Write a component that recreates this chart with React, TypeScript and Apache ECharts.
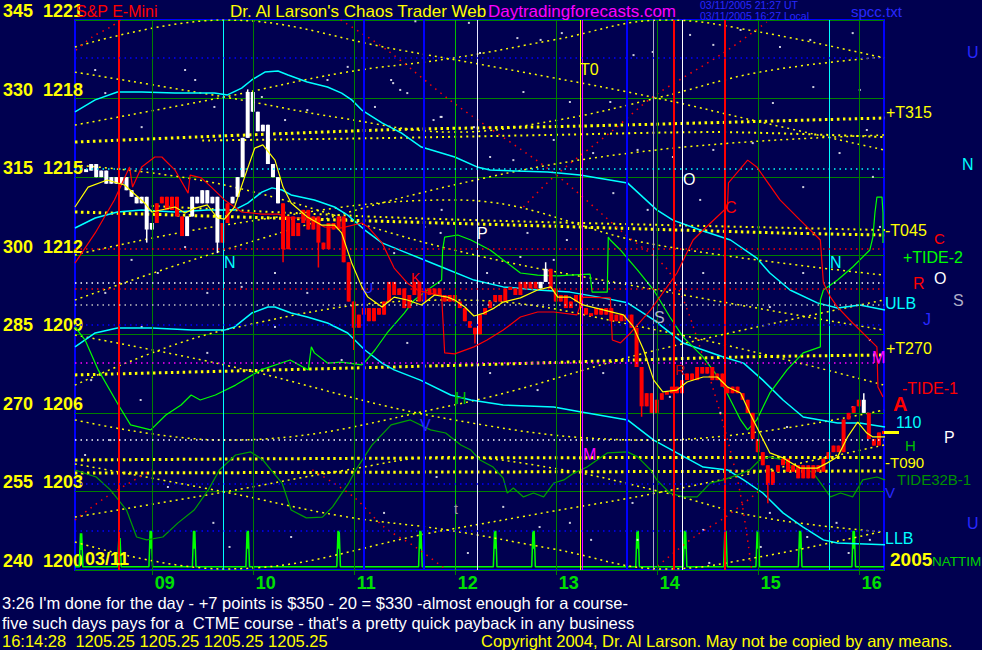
import React, { useEffect, useRef } from "react";
import * as echarts from "echarts";

const FONT = '"Liberation Sans", Arial, Helvetica, sans-serif';
const BG = "#000050";

// ---------- axes ----------
const dayTicks = [9, 10, 11, 12, 13, 14, 15, 16];
const dayMin = 8.24;
const dayMax = 16.25;
const priceMin = 1200;
const priceMax = 1221;
const priceStep = 3;
const lastPrice = 1205.25;

// ---------- price bars (0.05 day apart) ----------
const barStartDay = 8.35;
const barStepDay = 0.05;
const closes = [
  1215.25, 1215.5, 1215.0, 1215.25, 1214.75, 1215.0, 1214.75, 1215.0, 1214.5, 1214.25,
  1214.0, 1214.25, 1213.0, 1213.25, 1214.0, 1214.25, 1213.75, 1214.25, 1213.5, 1212.75,
  1213.5, 1214.25, 1214.0, 1214.5, 1214.0, 1214.25, 1212.5, 1213.25, 1214.0, 1214.25,
  1215.0, 1216.5, 1218.25, 1217.5, 1216.75, 1217.0, 1215.5, 1215.0, 1214.0, 1212.25,
  1213.5, 1212.75, 1213.25, 1213.75, 1213.0, 1213.5, 1212.5, 1212.25, 1213.25, 1213.0,
  1213.5, 1211.75, 1210.25, 1209.25, 1209.75, 1210.0, 1209.5, 1210.0, 1209.75, 1210.25,
  1211.0, 1210.5, 1210.75, 1210.0, 1210.5, 1211.0, 1210.25, 1210.75, 1210.5, 1210.75,
  1210.5, 1210.25, 1210.5, 1210.25, 1210.0, 1209.5, 1209.25, 1209.0, 1209.75, 1210.0,
  1210.25, 1210.5, 1210.25, 1210.75, 1210.75, 1210.5, 1211.0, 1210.75, 1211.0, 1210.75,
  1211.0, 1211.5, 1210.75, 1210.25, 1210.5, 1210.0, 1210.25, 1210.5, 1210.0, 1209.75,
  1209.75, 1210.0, 1209.75, 1210.0, 1209.5, 1209.75, 1209.5, 1209.75, 1209.25, 1207.75,
  1206.25, 1206.75, 1206.0, 1206.5, 1206.75, 1206.75, 1207.0, 1206.75, 1207.25, 1207.5,
  1207.25, 1207.75, 1207.5, 1207.75, 1207.25, 1207.5, 1207.0, 1206.75, 1207.0, 1206.75,
  1206.5, 1206.0, 1205.0, 1204.5, 1204.0, 1203.25, 1203.75, 1204.0, 1204.25, 1203.75,
  1204.0, 1203.5, 1204.0, 1203.5, 1204.0, 1203.75, 1204.25, 1204.5, 1204.75, 1204.5,
  1205.75, 1206.0, 1206.25, 1206.5, 1206.0, 1205.0, 1204.75, 1205.25, 1205.25,
];
const whiteBarRanges = [[0, 13], [20, 26], [29, 38], [90, 91], [154, 154]];
// [bar index, extreme price] for the longer wicks
const barWicks = [
  [12, 1212.5], [26, 1212.1], [32, 1218.35], [39, 1211.75], [46, 1211.55], [53, 1208.4],
  [77, 1208.65], [91, 1211.75], [110, 1205.85], [135, 1202.55], [154, 1206.75],
];

// ---------- averages and bands [day, price] ----------
const yellowMA = [
  [8.24, 1213.86], [8.37, 1214.62], [8.56, 1214.89], [8.73, 1214.7], [8.93, 1214.01], [9.0, 1213.67],
  [9.23, 1213.86], [9.33, 1213.63], [9.43, 1213.82], [9.55, 1213.94], [9.65, 1213.44], [9.72, 1213.4],
  [9.82, 1213.86], [9.92, 1215.01], [10.02, 1216.11], [10.1, 1216.23], [10.22, 1215.65], [10.3, 1214.62],
  [10.38, 1214.01], [10.54, 1213.48], [10.68, 1213.17], [10.81, 1213.17], [10.88, 1212.87], [10.98, 1211.72],
  [11.08, 1210.81], [11.14, 1210.42], [11.28, 1210.04], [11.4, 1210.42], [11.53, 1210.31], [11.67, 1210.12],
  [11.8, 1210.5], [11.93, 1210.42], [12.0, 1210.31], [12.1, 1210.04], [12.19, 1209.7], [12.29, 1209.81],
  [12.39, 1210.0], [12.48, 1210.23], [12.65, 1210.39], [12.82, 1210.69], [12.95, 1210.81], [13.02, 1210.42],
  [13.14, 1210.42], [13.27, 1210.12], [13.47, 1209.93], [13.67, 1209.74], [13.77, 1209.28], [13.87, 1208.4],
  [13.97, 1207.25], [14.06, 1206.8], [14.2, 1206.87], [14.3, 1207.18], [14.46, 1207.37], [14.6, 1207.37],
  [14.7, 1206.99], [14.83, 1206.76], [14.92, 1206.0], [15.02, 1205.23], [15.12, 1204.47], [15.25, 1204.28],
  [15.42, 1203.89], [15.59, 1203.89], [15.69, 1204.09], [15.79, 1204.32], [15.89, 1205.08], [15.99, 1205.65],
  [16.08, 1205.23], [16.14, 1205.08], [16.26, 1205.08],
];
const redMA = [
  [8.24, 1211.72], [8.44, 1212.87], [8.63, 1214.13], [8.78, 1215.39], [8.81, 1214.62], [8.9, 1215.39],
  [9.03, 1215.77], [9.1, 1215.77], [9.23, 1215.27], [9.36, 1214.39], [9.38, 1215.08], [9.49, 1214.97],
  [9.59, 1214.62], [9.72, 1214.13], [9.89, 1213.67], [10.09, 1213.59], [10.25, 1213.59], [10.38, 1213.44],
  [10.54, 1213.44], [10.71, 1213.1], [10.88, 1213.06], [11.08, 1213.25], [11.14, 1213.1], [11.28, 1212.49],
  [11.4, 1211.53], [11.53, 1210.96], [11.63, 1210.69], [11.73, 1210.58], [11.87, 1210.5], [11.9, 1208.29],
  [12.0, 1208.25], [12.19, 1208.52], [12.32, 1208.78], [12.48, 1209.16], [12.65, 1209.66], [12.82, 1209.85],
  [12.98, 1209.85], [13.21, 1209.74], [13.27, 1210.42], [13.54, 1210.39], [13.56, 1208.78], [13.64, 1208.67],
  [13.74, 1209.05], [13.94, 1209.93], [14.2, 1211.34], [14.36, 1212.6], [14.46, 1212.98], [14.7, 1213.86],
  [14.71, 1214.78], [14.9, 1215.65], [14.99, 1215.39], [15.22, 1214.13], [15.42, 1213.36], [15.62, 1212.6],
  [15.65, 1210.96], [15.72, 1210.42], [15.79, 1210.04], [15.94, 1209.43], [16.14, 1208.67], [16.18, 1208.52],
  [16.19, 1206.99], [16.24, 1206.61],
];
const upperBand = [
  [8.24, 1217.49], [8.44, 1217.95], [8.66, 1218.25], [8.9, 1218.25], [9.23, 1218.21], [9.62, 1218.21],
  [9.75, 1218.14], [9.89, 1218.4], [9.99, 1218.71], [10.12, 1219.01], [10.25, 1219.05], [10.35, 1218.9],
  [10.54, 1218.63], [10.74, 1218.44], [10.88, 1218.21], [10.98, 1217.95], [11.08, 1217.56], [11.28, 1217.07],
  [11.47, 1216.69], [11.67, 1216.15], [12.0, 1215.77], [12.22, 1215.39], [12.35, 1215.27], [12.92, 1215.2],
  [13.24, 1215.08], [13.71, 1214.78], [14.0, 1213.75], [14.16, 1213.36], [14.43, 1212.98], [14.73, 1212.6],
  [14.99, 1211.91], [15.12, 1211.34], [15.32, 1210.69], [15.59, 1210.2], [15.79, 1210.0], [16.01, 1210.12],
  [16.26, 1209.93],
];
const middleBand = [
  [8.24, 1213.06], [8.44, 1213.44], [8.66, 1213.67], [8.9, 1213.75], [9.23, 1213.67], [9.55, 1213.75],
  [9.82, 1213.75], [9.95, 1214.01], [10.09, 1214.43], [10.19, 1214.59], [10.29, 1214.51], [10.38, 1214.32],
  [10.61, 1214.13], [10.81, 1213.86], [10.94, 1213.55], [11.11, 1212.98], [11.28, 1212.49], [11.53, 1212.1],
  [11.87, 1211.57], [12.19, 1211.07], [12.48, 1210.81], [12.82, 1210.69], [13.14, 1210.61], [13.47, 1210.39],
  [13.71, 1210.2], [13.97, 1209.55], [14.26, 1208.67], [14.46, 1208.4], [14.66, 1208.13], [14.86, 1207.9],
  [15.05, 1207.25], [15.25, 1206.49], [15.45, 1205.84], [15.79, 1205.61], [16.01, 1205.61], [16.26, 1205.46],
];
const lowerBand = [
  [8.24, 1208.52], [8.44, 1209.05], [8.66, 1209.24], [9.0, 1209.24], [9.4, 1209.16], [9.72, 1209.16],
  [9.82, 1209.28], [9.99, 1209.81], [10.15, 1210.04], [10.22, 1210.04], [10.38, 1209.81], [10.54, 1209.66],
  [10.74, 1209.43], [10.94, 1209.05], [11.11, 1208.4], [11.28, 1207.9], [11.4, 1207.64], [11.66, 1207.25],
  [11.96, 1206.68], [12.16, 1206.49], [12.48, 1206.3], [12.98, 1206.22], [13.24, 1206.04], [13.71, 1205.73],
  [13.97, 1204.96], [14.2, 1204.47], [14.46, 1203.93], [14.7, 1203.82], [14.86, 1203.44], [15.05, 1202.94],
  [15.25, 1202.18], [15.45, 1201.64], [15.65, 1201.15], [15.79, 1201.03], [16.26, 1200.96],
];
const tide2 = [
  [8.24, 1209.28], [8.34, 1208.78], [8.47, 1207.64], [8.67, 1206.3], [8.79, 1205.54], [8.99, 1205.35],
  [9.14, 1205.92], [9.29, 1206.3], [9.39, 1206.68], [9.48, 1206.49], [9.63, 1206.68], [9.83, 1207.06],
  [10.08, 1207.64], [10.37, 1208.02], [10.55, 1207.64], [10.58, 1208.52], [10.61, 1208.29], [10.74, 1207.9],
  [10.88, 1207.94], [11.08, 1207.83], [11.11, 1207.94], [11.21, 1208.4], [11.33, 1209.05], [11.5, 1209.81],
  [11.6, 1210.31], [11.73, 1210.69], [11.87, 1211.07], [11.88, 1212.22], [11.9, 1212.71], [12.03, 1212.79],
  [12.16, 1212.6], [12.35, 1212.22], [12.48, 1211.84], [12.65, 1211.34], [12.82, 1211.26], [13.02, 1211.23],
  [13.14, 1211.26], [13.34, 1211.3], [13.36, 1210.61], [13.51, 1210.61], [13.52, 1212.71], [13.54, 1212.6],
  [13.64, 1212.22], [13.81, 1211.45], [13.97, 1210.69], [14.13, 1209.66], [14.26, 1208.9], [14.46, 1208.13],
  [14.63, 1207.25], [14.73, 1206.49], [14.83, 1205.73], [14.9, 1205.35], [14.99, 1205.73], [15.12, 1206.76],
  [15.29, 1207.64], [15.45, 1208.29], [15.62, 1208.52], [15.62, 1210.31], [15.65, 1210.69], [15.79, 1211.07],
  [15.94, 1211.57], [16.11, 1212.22], [16.14, 1212.71], [16.16, 1213.63], [16.18, 1214.24], [16.23, 1214.24],
  [16.24, 1213.63], [16.24, 1212.49],
];
const tide32b = [
  [8.24, 1203.82], [8.45, 1203.55], [8.59, 1203.06], [8.75, 1202.29], [8.85, 1201.26], [8.95, 1201.15],
  [9.11, 1201.26], [9.26, 1201.8], [9.42, 1202.29], [9.56, 1203.06], [9.67, 1203.82], [9.83, 1204.39],
  [9.98, 1204.51], [10.1, 1204.2], [10.18, 1203.82], [10.29, 1203.32], [10.38, 1202.29], [10.53, 1201.99],
  [10.69, 1202.02], [10.79, 1202.41], [10.95, 1203.32], [11.02, 1203.82], [11.18, 1204.77], [11.37, 1205.54],
  [11.56, 1205.73], [11.76, 1205.35], [11.91, 1205.23], [12.06, 1204.77], [12.16, 1204.58], [12.25, 1204.2],
  [12.38, 1203.93], [12.48, 1203.51], [12.52, 1202.94], [12.58, 1203.13], [12.68, 1202.79], [12.78, 1202.94],
  [12.88, 1202.79], [12.98, 1203.32], [13.08, 1203.44], [13.18, 1203.7], [13.31, 1203.93], [13.41, 1204.2],
  [13.51, 1204.47], [13.71, 1204.51], [13.81, 1204.32], [13.94, 1203.82], [14.0, 1203.44], [14.13, 1202.94],
  [14.26, 1202.79], [14.4, 1202.79], [14.53, 1203.32], [14.66, 1203.44], [14.8, 1203.63], [14.92, 1203.82],
  [15.02, 1204.2], [15.12, 1204.32], [15.25, 1204.2], [15.35, 1203.82], [15.45, 1203.93], [15.55, 1203.7],
  [15.65, 1203.17], [15.72, 1202.79], [15.82, 1202.94], [15.94, 1202.79], [16.04, 1203.44], [16.18, 1203.55],
  [16.26, 1203.44],
];

// ---------- timing spikes ----------
const spikeBase = 1200.12;
const spikeDays = [8.3, 8.68, 8.99, 9.42, 9.95, 10.85, 11.66, 12.4, 12.78, 13.81, 14.28, 14.68, 15.0, 15.42, 15.95];
const spikeTops = [1201.4, 1201.22, 1201.5, 1201.5, 1201.5, 1201.5, 1201.5, 1201.5, 1201.5, 1201.5, 1201.5, 1201.5, 1201.5, 1201.5, 1201.5];

// ---------- yellow projection curves ----------
const tLineT315a = [[8.24, 1216.34], [11.27, 1216.8], [13.24, 1216.95], [16.26, 1217.26]];
const tLineT315b = [[9.5, 1216.4], [11.27, 1216.49], [12.92, 1216.61], [14.56, 1216.72], [16.26, 1216.53]];
const tLineT045a = [[8.24, 1213.67], [10.88, 1213.36], [12.58, 1213.17], [15.22, 1212.87], [16.26, 1212.79]];
const tLineT045b = [[9.0, 1213.9], [11.27, 1213.48], [13.24, 1213.25], [16.26, 1212.98]];
const tLineT270 = [[8.24, 1207.45], [12.16, 1207.83], [14.8, 1208.13], [16.26, 1208.21]];
const tLineT090a = [[8.24, 1204.2], [12.0, 1204.28], [16.26, 1204.3]];
const tLineT090b = [[8.24, 1203.7], [12.0, 1203.74], [16.26, 1203.78]];
const curveA1 = [[8.24, 1219.97], [9.71, 1221.0], [11.46, 1219.85], [12.98, 1218.79], [14.0, 1218.02], [15.02, 1217.11], [16.25, 1216.04]];
const curveA2 = [[8.24, 1216.99], [9.72, 1218.06], [10.88, 1218.98], [11.99, 1219.55], [12.98, 1220.24], [14.08, 1221.0], [15.02, 1220.54], [16.25, 1219.55]];
const curveA3 = [[8.24, 1219.01], [9.72, 1218.06], [10.87, 1217.26], [11.99, 1216.72], [13.02, 1217.18], [14.0, 1218.02], [15.02, 1219.01], [16.25, 1219.59]];
const curveB1 = [[8.24, 1201.07], [9.71, 1200.04], [11.92, 1201.53], [12.98, 1202.25], [14.05, 1202.98], [16.25, 1204.77]];
const curveB2 = [[8.24, 1204.05], [9.72, 1202.98], [10.88, 1202.06], [11.92, 1201.53], [12.98, 1200.8], [14.08, 1200.04], [15.02, 1200.5], [16.25, 1201.49]];
const curveB3 = [[8.24, 1202.02], [9.72, 1202.98], [10.87, 1203.78], [11.92, 1204.32], [13.02, 1203.86], [14.05, 1202.98], [15.02, 1202.02], [16.25, 1201.45]];
const curveM1 = [[8.24, 1215.46], [9.72, 1214.7], [11.99, 1212.22], [14.0, 1210.69], [16.25, 1209.16]];
const curveM2 = [[8.24, 1210.31], [9.72, 1212.22], [11.99, 1214.7], [14.0, 1216.04], [16.25, 1216.61]];
const curveM3 = [[8.24, 1212.03], [9.72, 1213.17], [11.99, 1214.13], [14.0, 1212.41], [16.25, 1211.26]];
const curveM4 = [[8.24, 1205.73], [9.72, 1204.96], [11.99, 1206.3], [14.0, 1208.4], [16.25, 1210.31]];
const curveM5 = [[8.24, 1208.97], [9.72, 1207.83], [11.99, 1205.73], [14.0, 1204.96], [16.25, 1206.11]];
const curveM6 = [[8.24, 1207.06], [9.72, 1209.16], [11.99, 1210.31], [14.0, 1209.16], [16.25, 1207.06]];

// ---------- red dotted projections ----------
const redDot1 = [[10.87, 1221.0], [11.33, 1219.85], [11.99, 1217.83], [12.98, 1215.16], [13.67, 1212.87], [14.13, 1211.34], [14.46, 1208.13], [14.8, 1203.44], [14.94, 1200.0]];
const redDot2 = [[12.68, 1213.86], [12.98, 1215.01], [13.57, 1216.8], [13.96, 1218.06], [14.66, 1219.74], [15.09, 1220.92]];
const redDot3 = [[8.24, 1201.91], [8.55, 1202.79], [9.0, 1203.82]];
const redDot4 = [[10.59, 1203.82], [11.0, 1202.79], [11.3, 1201.64], [11.61, 1200.88], [11.92, 1200.0]];
const redDot5 = [[13.96, 1200.0], [14.37, 1201.26], [14.68, 1202.02], [15.03, 1203.06]];
const redDot6 = [[8.25, 1219.85], [8.41, 1220.35], [8.59, 1220.73], [8.69, 1221.0]];

// ---------- scattered white dots ----------
const whiteDots = [
  [11.61, 1220.95], [12.14, 1220.89], [12.62, 1220.31], [12.85, 1220.24], [13.06, 1220.5], [12.25, 1219.74],
  [12.68, 1218.25], [13.14, 1217.87], [13.54, 1217.87], [13.77, 1219.66], [13.96, 1219.78], [14.33, 1220.43],
  [14.56, 1220.05], [14.83, 1220.62], [15.22, 1219.97], [15.52, 1220.24], [15.94, 1220.5], [15.55, 1218.44],
  [16.01, 1218.33], [15.15, 1217.83], [14.95, 1216.3], [14.56, 1216.04], [14.16, 1215.77], [13.81, 1216.04],
  [13.37, 1215.92], [12.98, 1216.42], [12.58, 1215.65], [12.35, 1215.77], [11.86, 1217.3], [11.79, 1217.18],
  [11.46, 1218.33], [11.39, 1218.59], [16.08, 1216.8], [15.81, 1215.92], [16.14, 1215.01], [15.45, 1214.62],
  [14.43, 1214.13], [13.91, 1213.75], [13.57, 1214.39], [13.11, 1212.6], [12.72, 1212.87], [11.86, 1212.87],
  [16.21, 1213.1], [8.44, 1219.09], [8.54, 1218.21], [8.9, 1216.91], [9.33, 1219.09], [9.43, 1218.71],
  [9.62, 1217.68], [10.09, 1218.06], [10.32, 1217.18], [10.54, 1217.56], [10.74, 1218.71], [10.94, 1219.21],
  [11.21, 1217.68], [11.37, 1218.71], [11.53, 1218.21], [11.87, 1217.3], [12.19, 1216.91], [8.8, 1211.84],
  [9.06, 1211.34], [9.33, 1212.33], [9.55, 1210.58], [9.89, 1210.81], [10.22, 1211.34], [10.54, 1210.58],
  [11.4, 1212.1], [11.7, 1213.1], [11.87, 1213.75], [8.54, 1210.58], [8.9, 1209.28], [9.55, 1208.29],
  [10.22, 1209.28], [10.88, 1208.02], [11.53, 1208.67], [12.32, 1211.34], [12.65, 1211.95], [12.98, 1211.84],
  [14.13, 1210.69], [14.46, 1211.34], [15.12, 1210.04], [15.45, 1211.34], [16.11, 1208.78], [12.35, 1207.52],
  [12.82, 1206.87], [13.47, 1207.52], [14.13, 1206.61], [14.63, 1206.0], [15.29, 1205.46], [15.94, 1206.22],
  [12.48, 1202.41], [13.14, 1201.8], [13.81, 1201.15], [14.46, 1201.53], [15.12, 1202.18], [15.78, 1201.8],
  [16.11, 1201.15], [9.16, 1203.17], [9.61, 1201.8], [9.77, 1200.88], [10.38, 1201.26], [11.3, 1202.18],
  [11.82, 1203.55], [12.13, 1200.65], [12.84, 1201.64], [13.35, 1201.15], [13.76, 1202.56], [14.52, 1200.27],
  [15.03, 1200.88], [15.49, 1201.26], [15.9, 1200.65], [8.4, 1207.25], [8.59, 1204.96], [8.34, 1204.39],
  [8.89, 1206.49],
];

// ---------- reference lines ----------
const dayLineColors = ["#008000", "#008000", "#008000", "#00c000", "#008000", "#008000", "#008000", "#008000"];
const eventDays = [8.67, 9.71, 11.1, 11.69, 12.22, 13.24, 13.26, 13.7, 13.97, 14.17, 14.25, 14.67, 15.71];
const eventColors = ["#ff0000", "#00ffff", "#0000ff", "#0000ff", "#e8e8ff", "#ffff00", "#ff00ff", "#0000ff", "#a8a8c8", "#ff0000", "#ffffff", "#ff0000", "#00ffff"];
const levelPrices = [1219.55, 1215.31, 1212.26, 1210.96, 1210.73, 1210.12, 1209.36, 1207.9, 1204.96, 1203.28, 1201.49];
const levelColors = ["#0000ff", "#00ffff", "#ff0000", "#ffffff", "#ff0000", "#c0c0c0", "#0000ff", "#ff00ff", "#ffffff", "#0000ff", "#0000ff"];

function isWhite(i: number) {
  return whiteBarRanges.some(([a, b]) => i >= a && i <= b);
}

function dottedLine(data: number[][], color: string, width: number, dash: number[], smooth: number | boolean, z = 2) {
  return {
    type: "line",
    data,
    showSymbol: false,
    smooth,
    silent: true,
    z,
    lineStyle: { color, width, type: dash },
  };
}

function solidLine(data: number[][], color: string, width: number, z = 4) {
  return {
    type: "line",
    data,
    showSymbol: false,
    silent: true,
    z,
    lineStyle: { color, width },
  };
}

function buildSpikes() {
  const pts: number[][] = [[dayMin, spikeBase]];
  spikeDays.forEach((d, i) => {
    pts.push([d - 0.018, spikeBase]);
    pts.push([d - 0.006, spikeTops[i]]);
    pts.push([d, spikeBase + (spikeTops[i] - spikeBase) * 0.5]);
    pts.push([d + 0.006, spikeTops[i]]);
    pts.push([d + 0.018, spikeBase]);
  });
  pts.push([dayMax, spikeBase]);
  return pts;
}

function buildBars() {
  return closes.map((c, i) => {
    const o = i === 0 ? c : closes[i - 1];
    let lo = Math.min(o, c);
    let hi = Math.max(o, c);
    barWicks.forEach(([idx, p]) => {
      if (idx === i) {
        lo = Math.min(lo, p);
        hi = Math.max(hi, p);
      }
    });
    return [barStartDay + i * barStepDay, o, c, lo, hi, isWhite(i) ? 1 : 0];
  });
}

function buildOption() {
  const markData: any[] = [];
  dayTicks.forEach((d, i) => markData.push({ xAxis: d, lineStyle: { color: dayLineColors[i], width: 1, type: "solid" } }));
  eventDays.forEach((d, i) =>
    markData.push({ xAxis: d, lineStyle: { color: eventColors[i], width: eventColors[i] === "#0000ff" || eventColors[i] === "#ff0000" ? 2 : 1, type: "solid" } })
  );
  levelPrices.forEach((p, i) => markData.push({ yAxis: p, lineStyle: { color: levelColors[i], width: 1.5, type: [1.5, 4] } }));

  const yellow = "#ffff00";
  const red = "#ff0000";
  const thin = [2, 4];
  const thick = [2.5, 3.5];

  return {
    animation: false,
    backgroundColor: BG,
    grid: { left: 74, right: 98, top: 20, bottom: 80, show: true, borderColor: "#0000ff", borderWidth: 2, backgroundColor: "transparent" },
    xAxis: {
      type: "value",
      min: dayMin,
      max: dayMax,
      axisLine: { show: false },
      splitLine: { show: false },
      axisTick: { show: true, customValues: dayTicks, length: 5, lineStyle: { color: "#008000" } },
      axisLabel: {
        customValues: dayTicks,
        formatter: (v: number) => String(Math.round(v)).padStart(2, "0"),
        color: "#00e000",
        fontSize: 18,
        fontWeight: "bold",
        fontFamily: FONT,
        align: "left",
        margin: 4,
        padding: [0, 0, 0, 3],
      },
    },
    yAxis: {
      type: "value",
      min: priceMin,
      max: priceMax,
      interval: priceStep,
      axisLine: { show: false },
      axisTick: { show: false },
      splitLine: { show: true, lineStyle: { color: "#008000", width: 1 } },
      axisLabel: {
        formatter: (v: number) => `${240 + (v - 1200) * 5}  ${v}`,
        color: "#ffff00",
        fontSize: 18,
        fontWeight: "bold",
        fontFamily: FONT,
        align: "left",
        verticalAlign: "bottom",
        margin: 72,
      },
    },
    series: [
      {
        type: "line",
        data: buildSpikes(),
        showSymbol: false,
        silent: true,
        z: 1,
        lineStyle: { color: "#00ff00", width: 1.5 },
        markLine: { silent: true, symbol: ["none", "none"], label: { show: false }, animation: false, data: markData },
      },
      {
        type: "scatter",
        data: whiteDots,
        symbol: "rect",
        symbolSize: 2,
        silent: true,
        z: 2,
        itemStyle: { color: "#ffffff" },
      },
      dottedLine(curveA1, yellow, 1.5, thin, 0.4),
      dottedLine(curveA2, yellow, 1.5, thin, 0.4),
      dottedLine(curveA3, yellow, 1.5, thin, 0.4),
      dottedLine(curveB1, yellow, 1.5, thin, 0.4),
      dottedLine(curveB2, yellow, 1.5, thin, 0.4),
      dottedLine(curveB3, yellow, 1.5, thin, 0.4),
      dottedLine(curveM1, yellow, 1.5, thin, 0.4),
      dottedLine(curveM2, yellow, 1.5, thin, 0.4),
      dottedLine(curveM3, yellow, 1.5, thin, 0.4),
      dottedLine(curveM4, yellow, 1.5, thin, 0.4),
      dottedLine(curveM5, yellow, 1.5, thin, 0.4),
      dottedLine(curveM6, yellow, 1.5, thin, 0.4),
      dottedLine(tLineT315a, yellow, 3, thick, 0.3),
      dottedLine(tLineT315b, yellow, 2, thin, 0.3),
      dottedLine(tLineT045a, yellow, 3, thick, 0.3),
      dottedLine(tLineT045b, yellow, 2, thin, 0.3),
      dottedLine(tLineT270, yellow, 3, thick, 0.3),
      dottedLine(tLineT090a, yellow, 3, thick, 0.3),
      dottedLine(tLineT090b, yellow, 3, thick, 0.3),
      dottedLine(redDot1, red, 1.5, [1.5, 5], 0.3),
      dottedLine(redDot2, red, 1.5, [1.5, 5], 0.3),
      dottedLine(redDot3, red, 1.5, [1.5, 5], 0.3),
      dottedLine(redDot4, red, 1.5, [1.5, 5], 0.3),
      dottedLine(redDot5, red, 1.5, [1.5, 5], 0.3),
      dottedLine(redDot6, red, 1.5, [1.5, 5], 0.3),
      solidLine(upperBand, "#00ffff", 1.5, 3),
      solidLine(middleBand, "#00ffff", 1.5, 3),
      solidLine(lowerBand, "#00ffff", 1.5, 3),
      solidLine(tide32b, "#00a000", 1.2, 3),
      solidLine(tide2, "#00ff00", 1.2, 3),
      {
        type: "custom",
        data: buildBars(),
        clip: true,
        silent: true,
        z: 4,
        encode: { x: 0, y: [1, 2, 3, 4] },
        renderItem: (params: any, api: any) => {
          const d = api.value(0);
          const o = api.value(1);
          const c = api.value(2);
          const lo = api.value(3);
          const hi = api.value(4);
          const w = api.value(5);
          const color = w ? "#ffffff" : "#ff0000";
          const top = api.coord([d, Math.max(o, c)]);
          const bot = api.coord([d, Math.min(o, c)]);
          const wTop = api.coord([d, hi]);
          const wBot = api.coord([d, lo]);
          const h = Math.max(3, bot[1] - top[1]);
          return {
            type: "group",
            children: [
              {
                type: "line",
                shape: { x1: wTop[0], y1: wTop[1], x2: wBot[0], y2: wBot[1] },
                style: { stroke: color, lineWidth: 1.5 },
              },
              {
                type: "rect",
                shape: { x: top[0] - 2, y: top[1] - (bot[1] - top[1] < 3 ? 1.5 : 0), width: 4, height: h },
                style: { fill: color },
              },
            ],
          };
        },
      },
      solidLine(redMA, "#ff0000", 1.2, 5),
      solidLine(yellowMA, "#ffff00", 1.2, 5),
    ],
  };
}

function txt(text: string, x: number, y: number, color: string, size: number, weight = "normal", align = "left") {
  return {
    type: "text",
    x,
    y,
    z: 100,
    silent: true,
    style: { text, fill: color, font: `${weight} ${size}px ${FONT}`, align, verticalAlign: "middle" },
  };
}

function buildGraphics(yLast: number, xRight: number) {
  return [
    // header
    txt("S&P E-Mini", 76, 11, "#ff0000", 16),
    txt("Dr. Al Larson's Chaos Trader Web", 230, 11, "#ffff00", 17),
    txt("Daytradingforecasts.com", 488, 11, "#ff00ff", 17),
    txt("03/11/2005 21:27 UT", 700, 4.5, "#2828ff", 10.5),
    txt("03/11/2005 16:27 Local", 700, 16, "#2828ff", 10.5),
    txt("spcc.txt", 851, 11, "#2828ff", 15),
    txt("U", 967, 52, "#2828ff", 16),
    // in-plot letters
    txt("T0", 580, 69, "#ffff00", 16),
    txt("O", 683, 179, "#ffffff", 16),
    txt("C", 725, 207, "#ff0000", 16),
    txt("P", 477, 233, "#ffffff", 16),
    txt("N", 224, 262, "#00ffff", 16),
    txt("N", 830, 262, "#00ffff", 16),
    txt("S", 654, 317, "#b0b0c8", 16),
    txt("U", 363, 288, "#2828ff", 14),
    txt("K", 411, 278, "#ff0000", 14),
    txt("R", 675, 370, "#c00000", 14),
    txt("H", 455, 398, "#00c000", 16),
    txt("V", 420, 425, "#2828ff", 16),
    txt("M", 583, 454, "#ff00ff", 16),
    txt("t", 454, 509, "#a0a0a0", 14),
    txt("03/11", 85, 559, "#ffff00", 18, "bold"),
    // right labels
    txt("+T315", 886, 112, "#ffff00", 16),
    txt("N", 962, 164, "#00ffff", 16),
    txt("-T045", 885, 230, "#ffff00", 16),
    txt("C", 934, 238, "#ff0000", 15),
    txt("+TIDE-2", 903, 257, "#00ff00", 16),
    txt("O", 934, 278, "#ffffff", 16),
    txt("R", 913, 283, "#ff0000", 16),
    txt("S", 953, 300, "#b0b0c8", 16),
    txt("ULB", 885, 303, "#00ffff", 16),
    txt("J", 923, 319, "#2828ff", 16),
    txt("+T270", 886, 348, "#ffff00", 16),
    txt("M", 872, 357, "#ff00ff", 16),
    txt("-TIDE-1", 902, 388, "#ff0000", 16),
    txt("A", 893, 404, "#ff0000", 20, "bold"),
    txt("110", 896, 422, "#00ffff", 16),
    txt("P", 944, 437, "#ffffff", 16),
    txt("H", 905, 445, "#00c000", 15),
    txt("-T090", 885, 462, "#ffff00", 15),
    txt("TIDE32B-1", 897, 479, "#009000", 15),
    txt("V", 885, 492, "#2828ff", 15),
    txt("U", 967, 523, "#2828ff", 16),
    txt("LLB", 885, 538, "#00ffff", 16),
    txt("2005", 890, 559, "#ffff00", 19, "bold"),
    txt("NATTIM", 932, 561, "#00d000", 13.5),
    // bottom notes
    txt("3:26 I'm done for the day - +7 points is $350 - 20 = $330 -almost enough for a course-", 2, 603, "#ffffff", 16.5),
    txt("five such days pays for a  CTME course - that's a pretty quick payback in any business", 2, 623, "#ffffff", 16.5),
    txt("16:14:28  1205.25 1205.25 1205.25 1205.25", 2, 641, "#ffff00", 16.5),
    txt("Copyright 2004, Dr. Al Larson. May not be copied by any means.", 481, 641, "#ffff00", 16.5),
    // last price tick
    {
      type: "line",
      z: 100,
      silent: true,
      shape: { x1: xRight, y1: yLast, x2: xRight + 15, y2: yLast },
      style: { stroke: "#ffff00", lineWidth: 3 },
    },
  ];
}

export default function App() {
  const ref = useRef<HTMLDivElement>(null);
  useEffect(() => {
    if (!ref.current) return;
    const chart = echarts.init(ref.current, null, { renderer: "svg" });
    chart.setOption(buildOption() as any);
    const yLast = chart.convertToPixel({ yAxisIndex: 0 }, lastPrice) as unknown as number;
    const xRight = chart.convertToPixel({ xAxisIndex: 0 }, dayMax) as unknown as number;
    chart.setOption({ graphic: buildGraphics(yLast, xRight) } as any);
    return () => chart.dispose();
  }, []);
  return (
    <div
      ref={ref}
      style={{ position: "fixed", left: 0, top: 0, width: 982, height: 650, background: BG }}
    />
  );
}
